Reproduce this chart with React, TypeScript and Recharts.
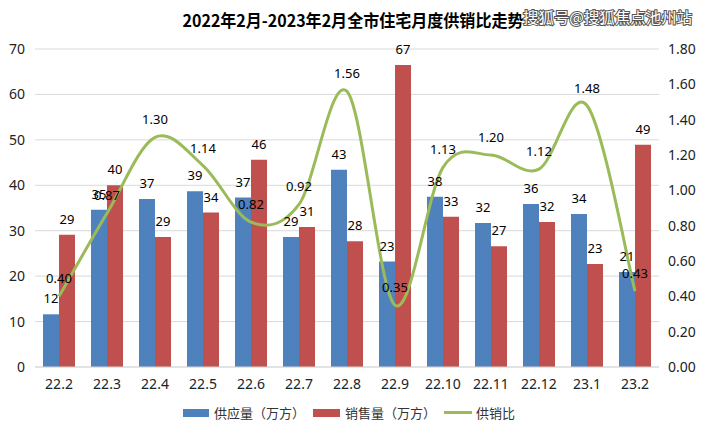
import React from "react";
import {
  ComposedChart,
  Bar,
  Line,
  XAxis,
  YAxis,
  CartesianGrid,
  Legend,
  LabelList,
} from "recharts";

// monthly supply / sales (万方) and supply-sales ratio
const months = ["22.2", "22.3", "22.4", "22.5", "22.6", "22.7", "22.8", "22.9", "22.10", "22.11", "22.12", "23.1", "23.2"];
const supply = [11.6, 34.6, 37.0, 38.7, 37.3, 28.6, 43.4, 23.2, 37.5, 31.7, 35.9, 33.7, 20.9];
const sales = [29.1, 40.0, 28.6, 34.0, 45.6, 30.8, 27.7, 66.5, 33.1, 26.6, 31.9, 22.7, 48.9];
const ratio = [0.4, 0.87, 1.3, 1.14, 0.82, 0.92, 1.56, 0.35, 1.13, 1.2, 1.12, 1.48, 0.43];

const leftTicks = [0, 10, 20, 30, 40, 50, 60, 70];
const rightTicks = [0, 0.2, 0.4, 0.6, 0.8, 1.0, 1.2, 1.4, 1.6, 1.8];

const data = months.map((m, i) => ({
  month: m,
  supply: supply[i],
  sales: sales[i],
  ratio: ratio[i],
}));

const BLUE = "#4F81BD";
const RED = "#C0504D";
const GREEN = "#9BBB59";
const FONT = "'Noto Sans', 'Noto Sans CJK SC', sans-serif";
const CJK = "'Noto Sans CJK SC', sans-serif";

// Excel-style smoothed line (Catmull-Rom through every point)
function smoothCurve(context: any) {
  let pts: number[][] = [];
  return {
    areaStart() {},
    areaEnd() {},
    lineStart() {
      pts = [];
    },
    point(x: number, y: number) {
      pts.push([+x, +y]);
    },
    lineEnd() {
      if (!pts.length) return;
      context.moveTo(pts[0][0], pts[0][1]);
      for (let i = 0; i < pts.length - 1; i++) {
        const p0 = pts[i - 1] || pts[i];
        const p1 = pts[i];
        const p2 = pts[i + 1];
        const p3 = pts[i + 2] || p2;
        context.bezierCurveTo(
          p1[0] + (p2[0] - p0[0]) / 6,
          p1[1] + (p2[1] - p0[1]) / 6,
          p2[0] - (p3[0] - p1[0]) / 6,
          p2[1] - (p3[1] - p1[1]) / 6,
          p2[0],
          p2[1]
        );
      }
    },
  };
}

function LegendBox() {
  const item = { display: "flex", alignItems: "center", marginRight: 8 } as const;
  const text = { fontFamily: CJK, fontSize: 13, color: "#333" };
  return (
    <div style={{ display: "flex", justifyContent: "center", alignItems: "center", height: 31 }}>
      <div style={item}>
        <span style={{ width: 26, height: 8, background: BLUE, marginRight: 5 }} />
        <span style={text}>供应量（万方）</span>
      </div>
      <div style={item}>
        <span style={{ width: 27, height: 8, background: RED, marginRight: 5 }} />
        <span style={text}>销售量（万方）</span>
      </div>
      <div style={item}>
        <span style={{ width: 28, height: 3, background: GREEN, marginRight: 4 }} />
        <span style={text}>供销比</span>
      </div>
    </div>
  );
}

export default function App() {
  return (
    <div style={{ position: "absolute", left: 0, top: 0, width: 706, height: 438, background: "#fff" }}>
      <svg width={706} height={34} style={{ position: "absolute", left: 0, top: 0 }}>
        <text
          x={353}
          y={27}
          textAnchor="middle"
          textLength={341}
          lengthAdjust="spacingAndGlyphs"
          style={{ fontFamily: CJK, fontSize: 17, fontWeight: 700, fill: "#000" }}
        >
          2022年2月-2023年2月全市住宅月度供销比走势
        </text>
        <text
          x={523}
          y={23}
          textLength={169}
          lengthAdjust="spacingAndGlyphs"
          style={{
            fontFamily: CJK,
            fontSize: 15,
            fill: "#fff",
            stroke: "#555",
            strokeWidth: 2,
            paintOrder: "stroke",
          }}
        >
          搜狐号@搜狐焦点池州站
        </text>
      </svg>
      <ComposedChart
        width={706}
        height={438}
        data={data}
        margin={{ top: 49, right: 0, bottom: 10, left: 0 }}
        barGap={0}
      >
        <CartesianGrid yAxisId="left" vertical={false} stroke="#d9d9d9" />
        <XAxis
          dataKey="month"
          height={30}
          interval={0}
          tickLine={false}
          tickSize={0}
          tickMargin={12}
          axisLine={{ stroke: "#d9d9d9" }}
          tick={{ fontFamily: FONT, fontSize: 14, fill: "#222" }}
        />
        <YAxis
          yAxisId="left"
          width={35}
          domain={[0, 70]}
          ticks={leftTicks}
          axisLine={false}
          tickLine={false}
          tickSize={0}
          tickMargin={10}
          tick={{ fontFamily: FONT, fontSize: 14, fill: "#222" }}
        />
        <YAxis
          yAxisId="right"
          orientation="right"
          width={47}
          domain={[0, 1.8]}
          ticks={rightTicks}
          tickFormatter={(v: number) => v.toFixed(2)}
          axisLine={false}
          tickLine={false}
          tickSize={0}
          tickMargin={9}
          tick={{ fontFamily: FONT, fontSize: 14, fill: "#222" }}
        />
        <Legend verticalAlign="bottom" height={31} content={() => <LegendBox />} />
        <Bar yAxisId="left" dataKey="supply" name="供应量（万方）" fill={BLUE} barSize={16} isAnimationActive={false}>
          <LabelList
            dataKey="supply"
            position="top"
            offset={11}
            formatter={(v: number) => Math.round(v)}
            style={{ fontFamily: FONT, fontSize: 13, fill: "#000" }}
          />
        </Bar>
        <Bar yAxisId="left" dataKey="sales" name="销售量（万方）" fill={RED} barSize={16} isAnimationActive={false}>
          <LabelList
            dataKey="sales"
            position="top"
            offset={11}
            formatter={(v: number) => Math.round(v)}
            style={{ fontFamily: FONT, fontSize: 13, fill: "#000" }}
          />
        </Bar>
        <Line
          yAxisId="right"
          dataKey="ratio"
          name="供销比"
          type={smoothCurve as any}
          stroke={GREEN}
          strokeWidth={3}
          dot={false}
          activeDot={false}
          isAnimationActive={false}
        >
          <LabelList
            dataKey="ratio"
            position="top"
            offset={13}
            formatter={(v: number) => v.toFixed(2)}
            style={{ fontFamily: FONT, fontSize: 13, fill: "#000" }}
          />
        </Line>
      </ComposedChart>
    </div>
  );
}
